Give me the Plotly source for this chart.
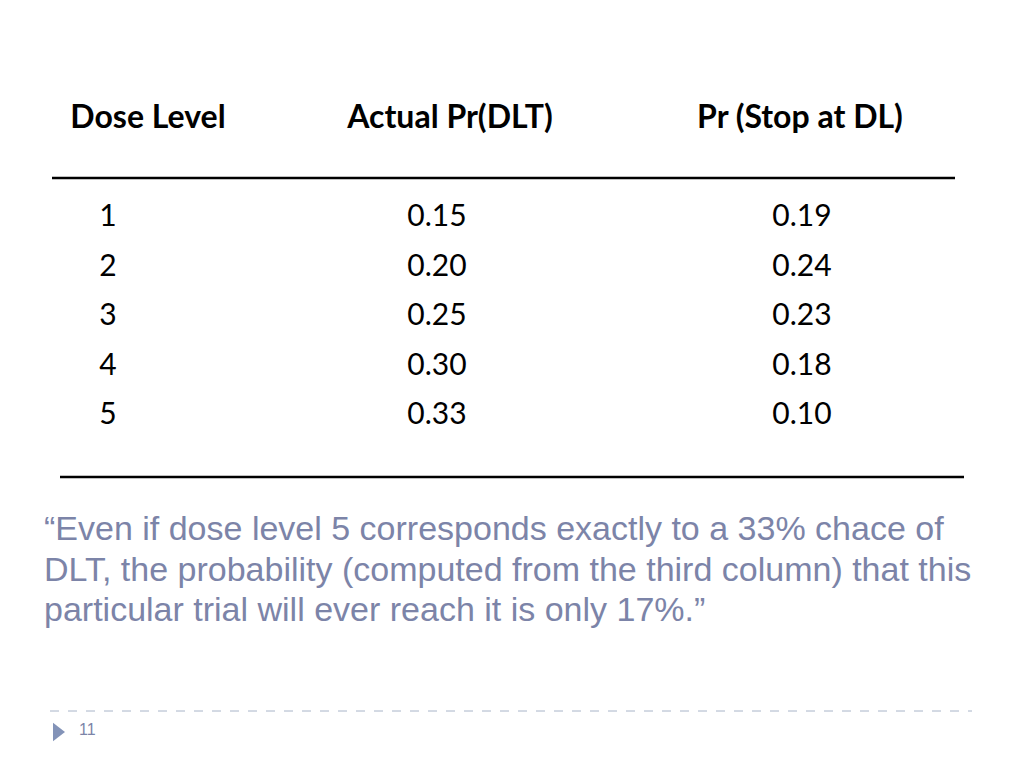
import plotly.graph_objects as go

# table data
headers = ["Dose Level", "Actual Pr(DLT)", "Pr (Stop at DL)"]
dose_levels = ["1", "2", "3", "4", "5"]
actual_dlt = ["0.15", "0.20", "0.25", "0.30", "0.33"]
pr_stop = ["0.19", "0.24", "0.23", "0.18", "0.10"]
quote_lines = [
    "\u201cEven if dose level 5 corresponds exactly to a 33% chace of",
    "DLT, the probability (computed from the third column) that this",
    "particular trial will ever reach it is only 17%.\u201d",
]
page_no = "11"

col_x = [108, 437, 802]
row_y = [218, 268, 317, 367, 416]

fig = go.Figure()

# header row
fig.add_trace(go.Scatter(
    x=[148, 450, 800], y=[120, 120, 120], mode="text", text=headers,
    textfont=dict(family="Lato", size=32, color="black", weight="bold"),
    hoverinfo="skip"))

# table body
for cx, col in zip(col_x, [dose_levels, actual_dlt, pr_stop]):
    fig.add_trace(go.Scatter(
        x=[cx] * len(col), y=row_y, mode="text", text=col,
        textfont=dict(family="Lato", size=30, color="black"),
        hoverinfo="skip"))

# quote
fig.add_trace(go.Scatter(
    x=[44] * len(quote_lines), y=[531, 572, 612], mode="text", text=quote_lines,
    textposition="middle right",
    textfont=dict(family="Liberation Sans", size=34, color="#7c84a8"),
    hoverinfo="skip"))

# footer
fig.add_trace(go.Scatter(
    x=[57], y=[732], mode="markers",
    marker=dict(symbol="triangle-right", size=16, color="#8393b8"),
    hoverinfo="skip"))
fig.add_trace(go.Scatter(
    x=[79], y=[731], mode="text", text=[page_no], textposition="middle right",
    textfont=dict(family="Liberation Sans", size=16, color="#7c84a8"),
    hoverinfo="skip"))

fig.add_shape(type="line", x0=52, x1=955, y0=178, y1=178,
              line=dict(color="black", width=2.5))
fig.add_shape(type="line", x0=60, x1=964, y0=477, y1=477,
              line=dict(color="black", width=2.5))
fig.add_shape(type="line", x0=50, x1=972, y0=711, y1=711,
              line=dict(color="#a8b4c8", width=1, dash="dash"))

# page body has an 8px offset, so shift the ranges to compensate
fig.update_layout(
    width=1024, height=768, showlegend=False,
    margin=dict(l=0, r=0, t=0, b=0),
    paper_bgcolor="white", plot_bgcolor="white",
    xaxis=dict(range=[8, 1032], visible=False, fixedrange=True),
    yaxis=dict(range=[776, 8], visible=False, fixedrange=True),
)

fig.write_html("out.html")
